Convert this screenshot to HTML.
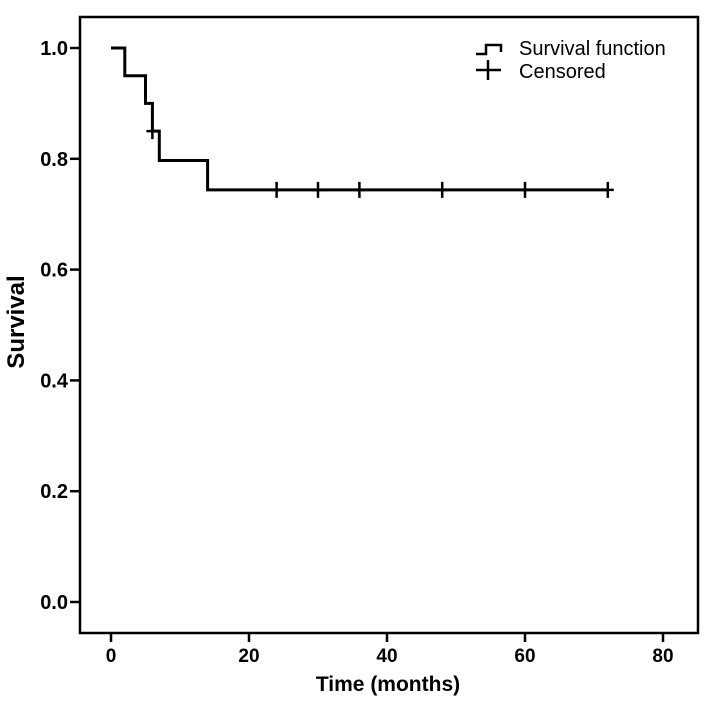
<!DOCTYPE html>
<html><head><meta charset="utf-8"><style>
body{margin:0;background:#fff;}
svg{display:block;font-family:"Liberation Sans",Arial,sans-serif;}
</style></head><body>
<svg id="chart" width="708" height="702" viewBox="0 0 708 702">
<rect x="80" y="17" width="618" height="616" fill="none" stroke="#000" stroke-width="2.5"/>
<g id="axes"></g>
<path id="curve" fill="none" stroke="#000" stroke-width="3"/>
<g id="censors"></g>
<text x="24" y="322" transform="rotate(-90 24 322)" text-anchor="middle" font-size="24" font-weight="bold">Survival</text>
<text x="388" y="691" text-anchor="middle" font-size="21" font-weight="bold">Time (months)</text>
<g>
<path d="M476 54 H486 V45 H501 V52" fill="none" stroke="#000" stroke-width="2.5"/>
<text x="519" y="55" font-size="20">Survival function</text>
<path d="M476 70 H501 M488 60 V80" fill="none" stroke="#000" stroke-width="2.5"/>
<text x="519" y="78" font-size="20">Censored</text>
</g>
</svg>
<script>
const stepTimes = [0, 2, 5, 6, 7, 14, 72];
const stepSurv = [1.0, 0.95, 0.9, 0.85, 0.797, 0.744, 0.744];
const censorTimes = [6, 24, 30, 36, 48, 60, 72];
const censorSurv = [0.85, 0.744, 0.744, 0.744, 0.744, 0.744, 0.744];
const xTicks = [0, 20, 40, 60, 80];
const yTicks = [0.0, 0.2, 0.4, 0.6, 0.8, 1.0];
const NS = "http://www.w3.org/2000/svg";
function X(t){return 111 + t*6.9;}
function Y(s){return 602 - s*554;}
const axes = document.getElementById('axes');
xTicks.forEach(t=>{
  const l=document.createElementNS(NS,'line');
  l.setAttribute('x1',X(t));l.setAttribute('x2',X(t));l.setAttribute('y1',633);l.setAttribute('y2',642);
  l.setAttribute('stroke','#000');l.setAttribute('stroke-width','2.5');
  
  
  axes.appendChild(l);
  const tx=document.createElementNS(NS,'text');
  tx.setAttribute('x',X(t));tx.setAttribute('y',662);tx.setAttribute('text-anchor','middle');
  tx.setAttribute('font-size','19');tx.setAttribute('font-weight','bold');tx.textContent=t;
  
  
  axes.appendChild(tx);
});
yTicks.forEach(s=>{
  const l=document.createElementNS(NS,'line');
  l.setAttribute('x1',70);l.setAttribute('x2',80);l.setAttribute('y1',Y(s));l.setAttribute('y2',Y(s));
  l.setAttribute('stroke','#000');l.setAttribute('stroke-width','2.5');
  
  
  axes.appendChild(l);
  const tx=document.createElementNS(NS,'text');
  tx.setAttribute('x',68);tx.setAttribute('y',Y(s)+7);tx.setAttribute('text-anchor','end');
  tx.setAttribute('font-size','20');tx.setAttribute('font-weight','bold');tx.textContent=s.toFixed(1);
  
  
  axes.appendChild(tx);
});
let d='M'+X(stepTimes[0])+' '+Y(stepSurv[0]);
for(let i=1;i<stepTimes.length;i++){
  d+=' H'+X(stepTimes[i])+' V'+Y(stepSurv[i]);
}
document.getElementById('curve').setAttribute('d',d);
const cg=document.getElementById('censors');
censorTimes.forEach((t,i)=>{
  const p=document.createElementNS(NS,'path');
  const x=X(t), y=Y(censorSurv[i]);
  p.setAttribute('d','M'+(x-6)+' '+y+' H'+(x+6)+' M'+x+' '+(y-8)+' V'+(y+8));
  p.setAttribute('stroke','#000');p.setAttribute('stroke-width','2.5');p.setAttribute('fill','none');
  
  
  cg.appendChild(p);
});
</script>
</body></html>
